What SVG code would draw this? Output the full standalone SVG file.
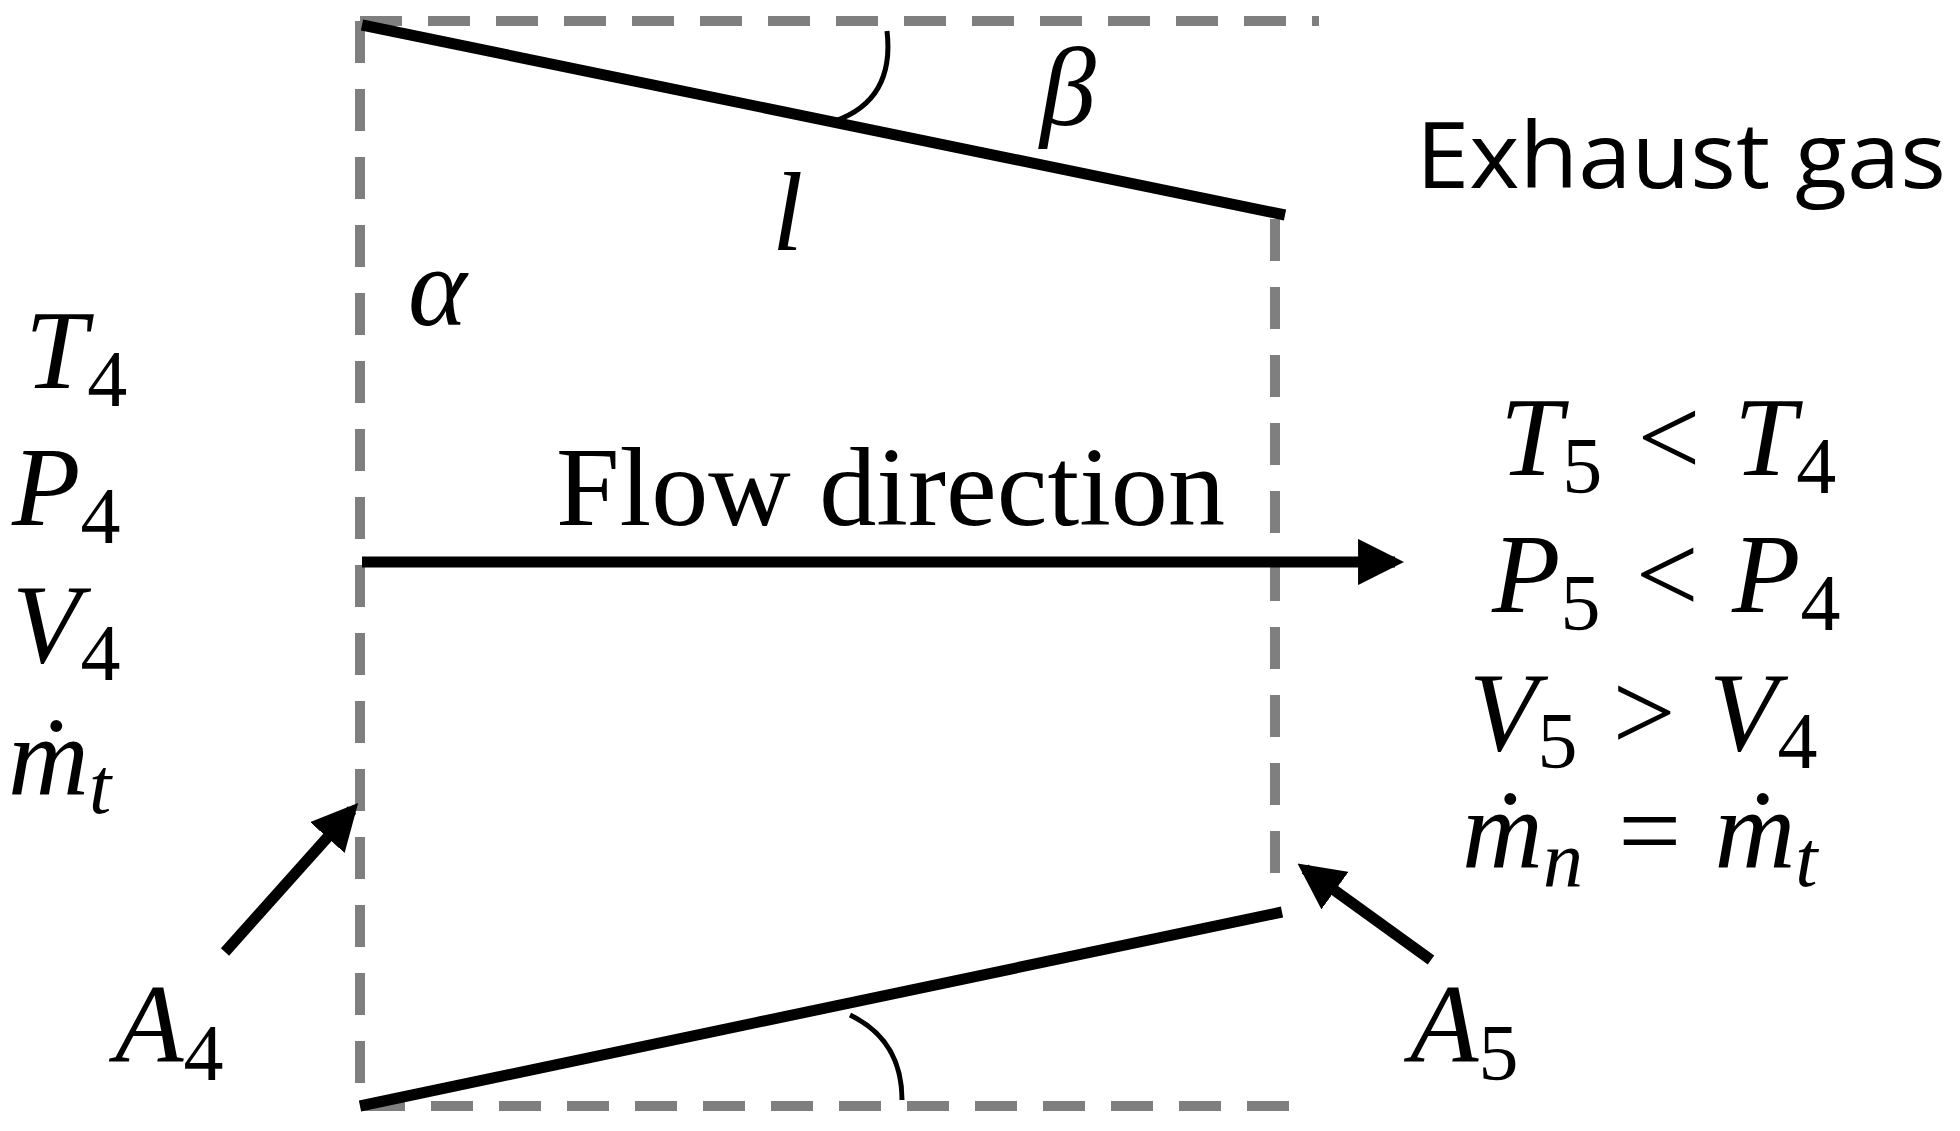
<svg xmlns="http://www.w3.org/2000/svg" width="1960" height="1131" viewBox="0 0 1960 1131">
<style>
.d{stroke:#7f7f7f;stroke-width:10;stroke-dasharray:42 26;fill:none}
.s{stroke:#000;stroke-width:11;fill:none}
.a{stroke:#000;stroke-width:5;fill:none}
.m{font-family:"Liberation Serif",serif;font-style:italic;font-size:112px;fill:#000}
.sub{font-style:normal;font-size:80px}
.si{font-style:italic;font-size:80px}
.t{font-family:"Liberation Serif",serif;font-size:112px}
.e{font-family:"Open Sans","Liberation Sans",sans-serif;font-size:92px}
</style>
<defs>
<marker id="ah" viewBox="0 0 10 10" refX="8" refY="5" markerWidth="4.2" markerHeight="4.2" orient="auto" markerUnits="strokeWidth"><path d="M0,0L10,5L0,10z" fill="#000"/></marker>
</defs>
<rect width="1960" height="1131" fill="#fff"/>
<g id="box">
<path class="d" d="M360,21H1319M360,21V1106H1312M1275,219V875"/>
</g>
<g id="walls">
<line class="s" x1="362" y1="25" x2="1285" y2="215"/>
<line class="s" x1="360" y1="1106" x2="1282" y2="912"/>
<path class="a" d="M887,31Q895,100 835,121"/>
<path class="a" d="M902,1100Q902,1040 850,1015"/>
</g>
<g id="connectors">
<line class="s" x1="362" y1="562" x2="1395" y2="562" marker-end="url(#ah)"/>
<line class="s" x1="225" y1="952" x2="352" y2="810" marker-end="url(#ah)"/>
<line class="s" x1="1431" y1="960" x2="1305" y2="869" marker-end="url(#ah)"/>
</g>
<g id="labels">
<text class="t" x="556" y="525" textLength="669" lengthAdjust="spacingAndGlyphs">Flow direction</text>
<text class="e" x="1416" y="188" textLength="530" lengthAdjust="spacingAndGlyphs">Exhaust gas</text>
<text class="m" x="408" y="325">α</text>
<text class="m" x="772" y="250">l</text>
<text class="m" x="1040" y="125">β</text>
<text class="m" x="25" y="388">T<tspan class="sub" dy="18">4</tspan></text>
<text class="m" x="12" y="525">P<tspan class="sub" dy="18">4</tspan></text>
<text class="m" x="12" y="662">V<tspan class="sub" dy="18">4</tspan></text>
<text class="m" x="8" y="795">ṁ<tspan class="si" dy="18">t</tspan></text>
<text class="m" x="1500" y="475">T<tspan class="sub" dy="18">5</tspan><tspan dy="-18"> &lt; T</tspan><tspan class="sub" dy="18">4</tspan></text>
<text class="m" x="1492" y="612">P<tspan class="sub" dy="18">5</tspan><tspan dy="-18"> &lt; P</tspan><tspan class="sub" dy="18">4</tspan></text>
<text class="m" x="1469" y="750">V<tspan class="sub" dy="18">5</tspan><tspan dy="-18"> &gt; V</tspan><tspan class="sub" dy="18">4</tspan></text>
<text class="m" x="1462" y="868">ṁ<tspan class="si" dy="18">n</tspan><tspan dy="-18"> = ṁ</tspan><tspan class="si" dy="18">t</tspan></text>
<text class="m" x="115" y="1062">A<tspan class="sub" dy="18">4</tspan></text>
<text class="m" x="1410" y="1062">A<tspan class="sub" dy="18">5</tspan></text>
</g>
</svg>
